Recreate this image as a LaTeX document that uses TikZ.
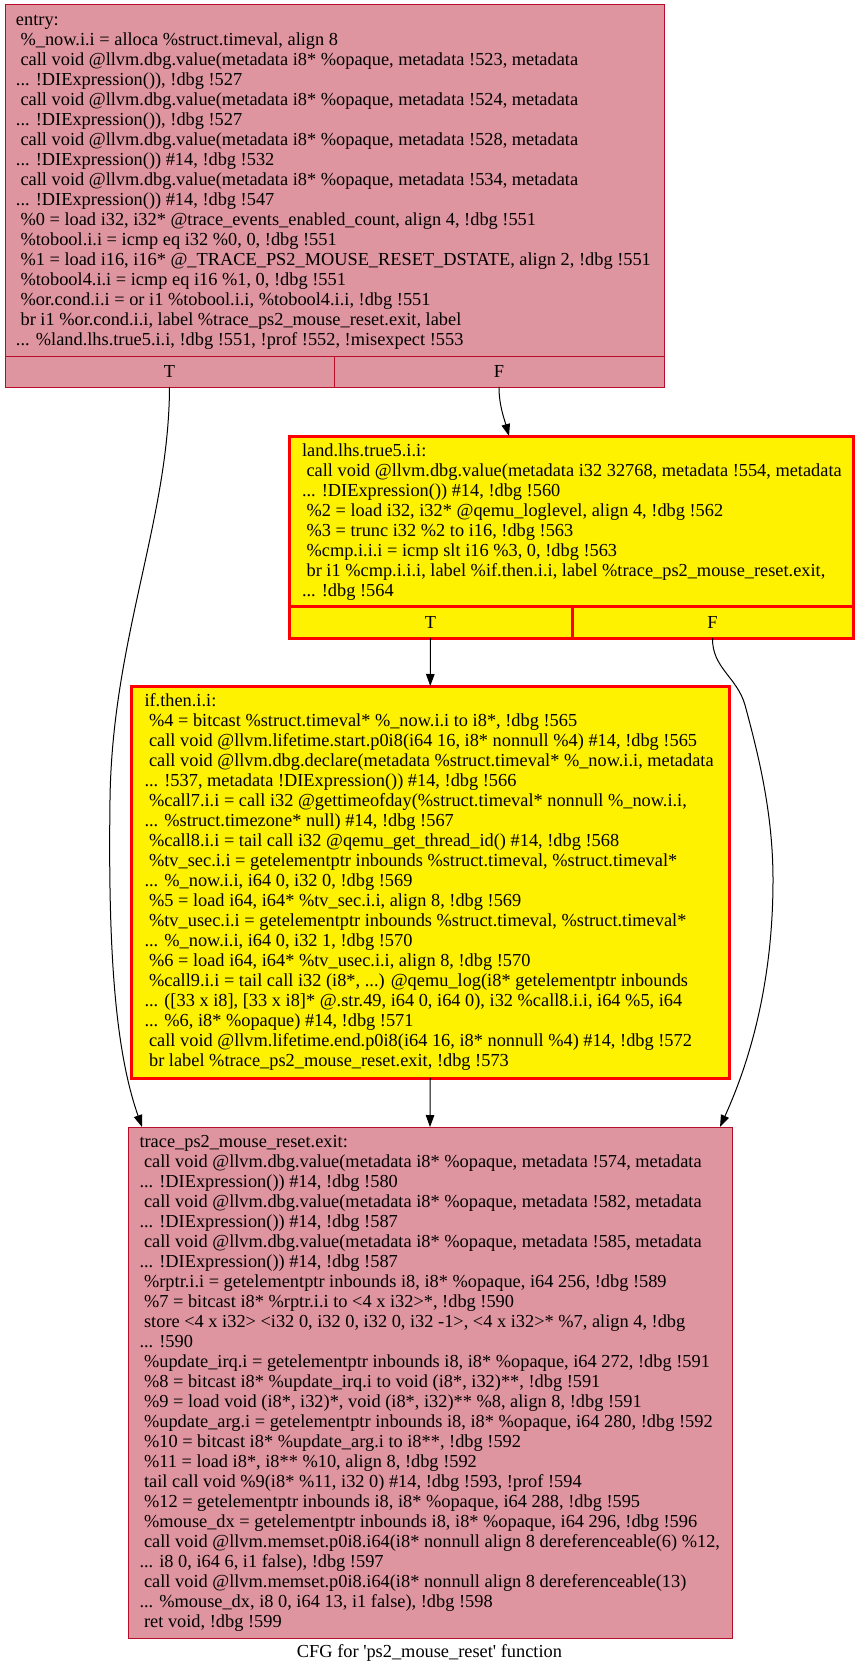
\documentclass[tikz,border=0pt]{standalone}
\usepackage{fontspec}
\setmainfont{Liberation Serif}
\usetikzlibrary{arrows.meta}
\definecolor{heatfill}{RGB}{223,149,160}
\definecolor{heatline}{HTML}{B70D28}
\newcommand\blockfont{\fontsize{18.35}{20}\selectfont}
\newcommand\ls{\hspace*{0.25em}}

\begin{document}
\begin{tikzpicture}[x=1pt,y=-1pt,
  field/.style={rectangle, inner sep=0pt, outer sep=0pt, anchor=north west, font=\blockfont},
  cold/.style={field, draw=heatline, fill=heatfill, line width=1pt},
  hot/.style={field, draw=red, fill=yellow, line width=3pt},
  code/.style={anchor=north west, inner sep=0pt, outer sep=0pt, align=left, font=\blockfont},
  edge/.style={draw=black, line width=1pt, -{Triangle[length=12pt,width=8.5pt]}},
]
\fill[white] (0,0) rectangle (859,1675);
\useasboundingbox (0,0) rectangle (859,1675);

% ---- entry block ----
\node[cold, minimum width=659, minimum height=351] (entry) at (5,5) {};
\node[cold, minimum width=329, minimum height=31] (entryT) at (5,356) {T};
\node[cold, minimum width=330, minimum height=31] (entryF) at (334,356) {F};
\node[code] (entrycode) at (16,11.5) {\strut entry:\\
\ls\%\_now.i.i = alloca \%struct.timeval, align 8\\
\ls call void @llvm.dbg.value(metadata i8* \%opaque, metadata !523, metadata\\
... !DIExpression()), !dbg !527\\
\ls call void @llvm.dbg.value(metadata i8* \%opaque, metadata !524, metadata\\
... !DIExpression()), !dbg !527\\
\ls call void @llvm.dbg.value(metadata i8* \%opaque, metadata !528, metadata\\
... !DIExpression()) \#14, !dbg !532\\
\ls call void @llvm.dbg.value(metadata i8* \%opaque, metadata !534, metadata\\
... !DIExpression()) \#14, !dbg !547\\
\ls\%0 = load i32, i32* @trace\_events\_enabled\_count, align 4, !dbg !551\\
\ls\%tobool.i.i = icmp eq i32 \%0, 0, !dbg !551\\
\ls\%1 = load i16, i16* @\_TRACE\_PS2\_MOUSE\_RESET\_DSTATE, align 2, !dbg !551\\
\ls\%tobool4.i.i = icmp eq i16 \%1, 0, !dbg !551\\
\ls\%or.cond.i.i = or i1 \%tobool.i.i, \%tobool4.i.i, !dbg !551\\
\ls br i1 \%or.cond.i.i, label \%trace\_ps2\_mouse\_reset.exit, label\\
... \%land.lhs.true5.i.i, !dbg !551, !prof !552, !misexpect !553};

% ---- land.lhs.true5.i.i block ----
\node[hot, minimum width=564, minimum height=170.5] (land) at (289,436) {};
\node[hot, minimum width=283, minimum height=31.5] (landT) at (289,606.5) {T};
\node[hot, minimum width=281, minimum height=31.5] (landF) at (572,606.5) {F};
\node[code] (landcode) at (302,442.5) {\strut land.lhs.true5.i.i:\\
\ls call void @llvm.dbg.value(metadata i32 32768, metadata !554, metadata\\
... !DIExpression()) \#14, !dbg !560\\
\ls\%2 = load i32, i32* @qemu\_loglevel, align 4, !dbg !562\\
\ls\%3 = trunc i32 \%2 to i16, !dbg !563\\
\ls\%cmp.i.i.i = icmp slt i16 \%3, 0, !dbg !563\\
\ls br i1 \%cmp.i.i.i, label \%if.then.i.i, label \%trace\_ps2\_mouse\_reset.exit,\\
... !dbg !564};

% ---- if.then.i.i block ----
\node[hot, minimum width=597.5, minimum height=392] (ifthen) at (131.5,686) {};
\node[code] (ifcode) at (144.5,692.5) {\strut if.then.i.i:\\
\ls\%4 = bitcast \%struct.timeval* \%\_now.i.i to i8*, !dbg !565\\
\ls call void @llvm.lifetime.start.p0i8(i64 16, i8* nonnull \%4) \#14, !dbg !565\\
\ls call void @llvm.dbg.declare(metadata \%struct.timeval* \%\_now.i.i, metadata\\
... !537, metadata !DIExpression()) \#14, !dbg !566\\
\ls\%call7.i.i = call i32 @gettimeofday(\%struct.timeval* nonnull \%\_now.i.i,\\
... \%struct.timezone* null) \#14, !dbg !567\\
\ls\%call8.i.i = tail call i32 @qemu\_get\_thread\_id() \#14, !dbg !568\\
\ls\%tv\_sec.i.i = getelementptr inbounds \%struct.timeval, \%struct.timeval*\\
... \%\_now.i.i, i64 0, i32 0, !dbg !569\\
\ls\%5 = load i64, i64* \%tv\_sec.i.i, align 8, !dbg !569\\
\ls\%tv\_usec.i.i = getelementptr inbounds \%struct.timeval, \%struct.timeval*\\
... \%\_now.i.i, i64 0, i32 1, !dbg !570\\
\ls\%6 = load i64, i64* \%tv\_usec.i.i, align 8, !dbg !570\\
\ls\%call9.i.i = tail call i32 (i8*, ...) @qemu\_log(i8* getelementptr inbounds\\
... ({[}33 x i8{]}, {[}33 x i8{]}* @.str.49, i64 0, i64 0), i32 \%call8.i.i, i64 \%5, i64\\
... \%6, i8* \%opaque) \#14, !dbg !571\\
\ls call void @llvm.lifetime.end.p0i8(i64 16, i8* nonnull \%4) \#14, !dbg !572\\
\ls br label \%trace\_ps2\_mouse\_reset.exit, !dbg !573};

% ---- trace_ps2_mouse_reset.exit block ----
\node[cold, minimum width=603.5, minimum height=511] (exit) at (128.5,1127) {};
\node[code] (exitcode) at (139.5,1133.5) {\strut trace\_ps2\_mouse\_reset.exit:\\
\ls call void @llvm.dbg.value(metadata i8* \%opaque, metadata !574, metadata\\
... !DIExpression()) \#14, !dbg !580\\
\ls call void @llvm.dbg.value(metadata i8* \%opaque, metadata !582, metadata\\
... !DIExpression()) \#14, !dbg !587\\
\ls call void @llvm.dbg.value(metadata i8* \%opaque, metadata !585, metadata\\
... !DIExpression()) \#14, !dbg !587\\
\ls\%rptr.i.i = getelementptr inbounds i8, i8* \%opaque, i64 256, !dbg !589\\
\ls\%7 = bitcast i8* \%rptr.i.i to <4 x i32>*, !dbg !590\\
\ls store <4 x i32> <i32 0, i32 0, i32 0, i32 -1>, <4 x i32>* \%7, align 4, !dbg\\
... !590\\
\ls\%update\_irq.i = getelementptr inbounds i8, i8* \%opaque, i64 272, !dbg !591\\
\ls\%8 = bitcast i8* \%update\_irq.i to void (i8*, i32)**, !dbg !591\\
\ls\%9 = load void (i8*, i32)*, void (i8*, i32)** \%8, align 8, !dbg !591\\
\ls\%update\_arg.i = getelementptr inbounds i8, i8* \%opaque, i64 280, !dbg !592\\
\ls\%10 = bitcast i8* \%update\_arg.i to i8**, !dbg !592\\
\ls\%11 = load i8*, i8** \%10, align 8, !dbg !592\\
\ls tail call void \%9(i8* \%11, i32 0) \#14, !dbg !593, !prof !594\\
\ls\%12 = getelementptr inbounds i8, i8* \%opaque, i64 288, !dbg !595\\
\ls\%mouse\_dx = getelementptr inbounds i8, i8* \%opaque, i64 296, !dbg !596\\
\ls call void @llvm.memset.p0i8.i64(i8* nonnull align 8 dereferenceable(6) \%12,\\
... i8 0, i64 6, i1 false), !dbg !597\\
\ls call void @llvm.memset.p0i8.i64(i8* nonnull align 8 dereferenceable(13)\\
... \%mouse\_dx, i8 0, i64 13, i1 false), !dbg !598\\
\ls ret void, !dbg !599};

% ---- caption ----
\node[font=\blockfont, inner sep=0pt] (caption) at (429.5,1653) {CFG for \textquotesingle ps2\_mouse\_reset\textquotesingle{} function};

% ---- control-flow edges ----
\draw[edge] (entryT.south) .. controls (169,520) and (112,640) .. (110,800)
  .. controls (108,950) and (115,1050) .. ([xshift=13.5pt]exit.north west);
\draw[edge] (entryF.south) .. controls (499,405) and (504,418) .. ([xshift=220pt]land.north west);
\draw[edge] (landT.south) -- (ifthen.north);
\draw[edge] (landF.south) .. controls (712,668) and (737,677) .. (745,705)
  .. controls (757,750) and (773,810) .. (773,880)
  .. controls (773,970) and (755,1050) .. ([xshift=591.5pt]exit.north west);
\draw[edge] (ifthen.south) -- ([xshift=301.5pt]exit.north west);
\end{tikzpicture}
\end{document}
